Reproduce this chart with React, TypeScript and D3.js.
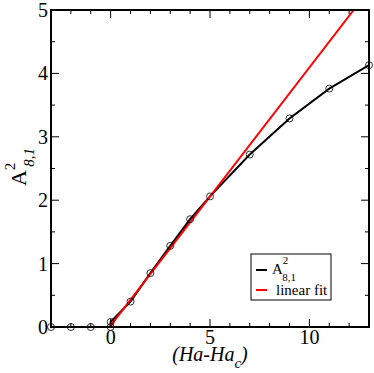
import React from "react";
import * as d3 from "d3";

// A^2_{8,1} vs (Ha - Ha_c)
const hx = [-3, -2, -1, 0, 0, 1, 2, 3, 4, 5, 7, 9, 11, 13];
const amp = [0, 0, 0, 0, 0.08, 0.4, 0.85, 1.28, 1.7, 2.06, 2.72, 3.29, 3.76, 4.13];

// linear fit, two end points
const fitX = [0, 12.23];
const fitY = [0.02, 5.0];

const xMajor = [0, 5, 10];
const yMajor = [0, 1, 2, 3, 4, 5];

const W = 374, H = 373;
const margin = { top: 10, right: 5, bottom: 46, left: 51 };
const FONT = "Liberation Serif";

export default function App() {
    const x = d3.scaleLinear().domain([-3, 13]).range([margin.left, W - margin.right]);
    const y = d3.scaleLinear().domain([0, 5]).range([H - margin.bottom, margin.top]);
    const [x0, x1] = x.range();
    const [y0, y1] = y.range();

    const xMinor = d3.range(-3, 14, 1).filter(v => !xMajor.includes(v));
    const yMinor = d3.range(0.5, 5, 1);

    const line = d3.line<number>().x((d, i) => x(hx[i])).y(d => y(d));
    const fitLine = d3.line<number>().x((d, i) => x(fitX[i])).y(d => y(d));

    return (
        <svg width={W} height={H} style={{ position: "absolute", left: 0, top: 0, background: "#fff" }}>
            <defs>
                <clipPath id="plot">
                    <rect x={x0} y={y1} width={x1 - x0} height={y0 - y1} />
                </clipPath>
            </defs>

            {/* inward ticks, all four sides */}
            <g stroke="#000" strokeWidth={1}>
                {xMajor.map(v => (
                    <g key={"xM" + v}>
                        <line x1={x(v)} x2={x(v)} y1={y0} y2={y0 - 8} />
                        <line x1={x(v)} x2={x(v)} y1={y1} y2={y1 + 8} />
                    </g>
                ))}
                {xMinor.map(v => (
                    <g key={"xm" + v}>
                        <line x1={x(v)} x2={x(v)} y1={y0} y2={y0 - 4} />
                        <line x1={x(v)} x2={x(v)} y1={y1} y2={y1 + 4} />
                    </g>
                ))}
                {yMajor.map(v => (
                    <g key={"yM" + v}>
                        <line x1={x0} x2={x0 + 8} y1={y(v)} y2={y(v)} />
                        <line x1={x1} x2={x1 - 8} y1={y(v)} y2={y(v)} />
                    </g>
                ))}
                {yMinor.map(v => (
                    <g key={"ym" + v}>
                        <line x1={x0} x2={x0 + 4} y1={y(v)} y2={y(v)} />
                        <line x1={x1} x2={x1 - 4} y1={y(v)} y2={y(v)} />
                    </g>
                ))}
            </g>

            {/* tick labels */}
            <g fontFamily={FONT} fontSize={20}>
                {xMajor.map(v => (
                    <text key={"xl" + v} x={x(v)} y={y0 + 17} textAnchor="middle">{v}</text>
                ))}
                {yMajor.map(v => (
                    <text key={"yl" + v} x={x0 - 3} y={y(v) + 7} textAnchor="end">{v}</text>
                ))}
            </g>

            <g clipPath="url(#plot)" fill="none" strokeWidth={2}>
                <path d={line(amp) || ""} stroke="#000" />
                <path d={fitLine(fitY) || ""} stroke="#ff0000" />
            </g>

            <g fill="none" stroke="#000" strokeWidth={0.8}>
                {amp.map((d, i) => (
                    <circle key={i} cx={x(hx[i])} cy={y(d)} r={3.5} />
                ))}
            </g>

            <rect x={x0} y={y1} width={x1 - x0} height={y0 - y1} fill="none" stroke="#000" strokeWidth={2} />

            {/* axis titles */}
            <text x={210} y={361} textAnchor="middle" fontFamily={FONT} fontSize={20} fontStyle="italic">
                <tspan>(Ha-Ha</tspan>
                <tspan dy={7} fontSize={15}>c</tspan>
                <tspan dy={-7}>)</tspan>
            </text>
            <text transform="translate(26,167) rotate(-90)" textAnchor="middle" fontFamily={FONT} fontSize={22}>
                <tspan>A</tspan>
                <tspan dy={-11} fontSize={15}>2</tspan>
                <tspan dx={-4} dy={19} fontSize={15} fontStyle="italic">8,1</tspan>
            </text>

            {/* legend */}
            <g fontFamily={FONT}>
                <rect x={251} y={254} width={80} height={46} fill="#fff" stroke="#000" strokeWidth={1} />
                <line x1={256} x2={267} y1={270} y2={270} stroke="#000" strokeWidth={2} />
                <line x1={256} x2={267} y1={290} y2={290} stroke="#ff0000" strokeWidth={2} />
                <text x={272} y={274} fontSize={15}>
                    <tspan>A</tspan>
                    <tspan dy={-10} fontSize={11}>2</tspan>
                    <tspan dx={-6} dy={17} fontSize={11}>8,1</tspan>
                </text>
                <text x={276} y={295} fontSize={15}>linear fit</text>
            </g>
        </svg>
    );
}
